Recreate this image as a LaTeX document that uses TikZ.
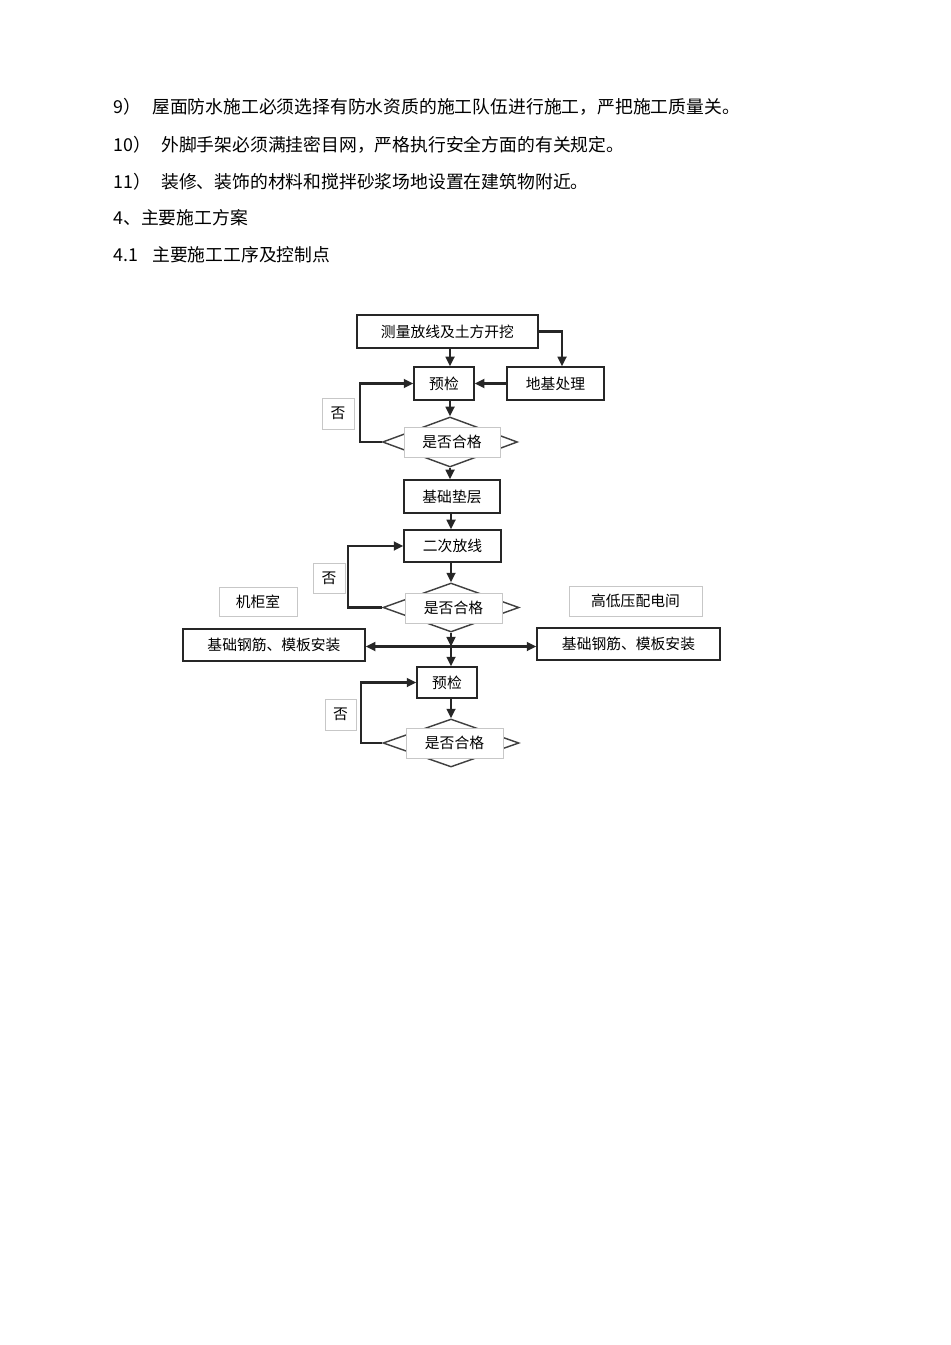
\documentclass[tikz,border=0pt]{standalone}
\usepackage{fontspec}
\setmainfont{Noto Sans CJK SC}
\usetikzlibrary{shapes.geometric}
\usetikzlibrary{arrows.meta}
\usetikzlibrary{shadows}

% one unit of the picture is one pixel of the page
\newcommand{\px}{0.022105cm}

\begin{document}
\begin{tikzpicture}[x=\px, y=-\px]

                % Styles of the boxes, the checks and the arrows
                \tikzset{
                    para/.style={anchor=west, inner sep=0,
                        font=\fontsize{11.2pt}{13pt}\selectfont},
                    wh/.style 2 args={minimum width=#1*\px, minimum height=#2*\px},
                    stepbox/.style={draw=black!85, line width=0.9pt, fill=white,
                        inner sep=0, font=\fontsize{9.3pt}{11pt}\selectfont,
                        drop shadow={shadow xshift=0.5pt, shadow yshift=-0.5pt,
                            fill=black!85, opacity=1}},
                    notebox/.style={draw=black!22, line width=0.5pt, fill=white,
                        inner sep=0, font=\fontsize{9.3pt}{11pt}\selectfont},
                    check/.style={diamond, draw=black!75, line width=0.9pt,
                        inner sep=0},
                    arr/.style={-{Triangle[length=6pt, width=5.5pt]},
                        line width=1.5pt, draw=black!85},
                    arrtwo/.style={{Triangle[length=6pt, width=5.5pt]}-{Triangle[length=6pt, width=5.5pt]},
                        line width=1.5pt, draw=black!85}
                }

                \useasboundingbox (0,0) rectangle (950,1345);

                % Lines of text above the chart
                \node[para] (n9) at (113,107) {9）};
                \node[para] (t9) at (152,107)
                {屋面防水施工必须选择有防水资质的施工队伍进行施工，严把施工质量关。};
                \node[para] (n10) at (113,145) {10）};
                \node[para] (t10) at (161,145)
                {外脚手架必须满挂密目网，严格执行安全方面的有关规定。};
                \node[para] (n11) at (113,182) {11）};
                \node[para] (t11) at (161,182)
                {装修、装饰的材料和搅拌砂浆场地设置在建筑物附近。};
                \node[para] (h4) at (113,218) {4、主要施工方案};
                \node[para] (n41) at (113,255) {4.1};
                \node[para] (t41) at (152,255) {主要施工工序及控制点};

                % First part: excavation and the ground
                \node[stepbox, wh={181}{33}] (survey) at (447.5,331.5)
                {测量放线及土方开挖};
                \node[stepbox, wh={60}{33}] (chkA) at (444,383.5) {预检};
                \node[stepbox, wh={97}{33}] (ground) at (555.5,383.5) {地基处理};
                \node[check, wh={135}{50}] (decA) at (450,442) {};
                \node[notebox, wh={96}{30}] (decAtxt) at (452,442) {是否合格};
                \node[notebox, wh={32}{31}] (noA) at (338,413.5) {否};

                % Second part: bedding and setting out again
                \node[stepbox, wh={96}{33}] (pad) at (452,496.5) {基础垫层};
                \node[stepbox, wh={97}{32}] (lineB) at (452.5,546) {二次放线};
                \node[check, wh={136}{49}] (decB) at (451,607.5) {};
                \node[notebox, wh={97}{30}] (decBtxt) at (453.5,608) {是否合格};
                \node[notebox, wh={32}{30}] (noB) at (329,578) {否};
                \node[notebox, wh={78}{29}] (cab) at (258,601.5) {机柜室};
                \node[notebox, wh={133}{30}] (power) at (635.5,601) {高低压配电间};

                % Third part: steel and formwork on both sides
                \node[stepbox, wh={182}{32}] (steelL) at (274,645)
                {基础钢筋、模板安装};
                \node[stepbox, wh={183}{32}] (steelR) at (628.5,644)
                {基础钢筋、模板安装};
                \coordinate (J) at (451,646.5);
                \node[stepbox, wh={60}{31}] (chkC) at (447,682.5) {预检};
                \node[check, wh={136}{48}] (decC) at (451,743) {};
                \node[notebox, wh={97}{30}] (decCtxt) at (454.5,743) {是否合格};
                \node[notebox, wh={31}{31}] (noC) at (340.5,714.5) {否};

                \begin{scope}[arr]
                    \draw (survey.south -| decA.north) -- (chkA.north -| decA.north);
                    \draw (survey.east) -| ([xshift=6.5*\px]ground.north);
                    \draw (ground.west) -- (chkA.east);
                    \draw (chkA.south -| decA.north) -- (decA.north);
                    \draw (decA.west) -- ++(-22,0) |- (chkA.west);
                    \draw (decA.south) -- (pad.north -| decA.south);
                    \draw (pad.south -| decB.north) -- (lineB.north -| decB.north);
                    \draw (lineB.south -| decB.north) -- (decB.north);
                    \draw (decB.west) -- ++(-34,0) |- (lineB.west);
                    \draw (decB.south) -- (J);
                    \draw (J) -- (chkC.north -| J);
                    \draw (chkC.south -| decC.north) -- (decC.north);
                    \draw (decC.west) -- ++(-21,0) |- (chkC.west);
                \end{scope}

                \draw[arrtwo] (steelL.east |- J) -- (steelR.west |- J);

                % the labels are laid over the diamonds again
                \node[notebox, wh={96}{30}] at (decAtxt) {是否合格};
                \node[notebox, wh={97}{30}] at (decBtxt) {是否合格};
                \node[notebox, wh={97}{30}] at (decCtxt) {是否合格};

\end{tikzpicture}
\end{document}
